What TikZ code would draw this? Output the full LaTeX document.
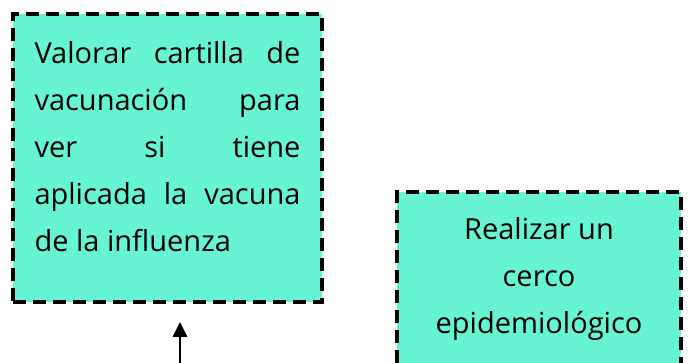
\documentclass[tikz,border=0pt]{standalone}
\usepackage{fontspec}
\setmainfont{Open Sans}
\usetikzlibrary{arrows.meta}
\definecolor{aguamarina}{RGB}{102,244,210}

\begin{document}
\begin{tikzpicture}[x=1pt,y=1pt,
    caja/.style={draw=black, fill=aguamarina, line width=3.2pt,
      dash pattern=on 13pt off 7pt, inner sep=0pt,
      font=\fontsize{29}{47}\selectfont},
    flecha/.style={-{Triangle[length=15pt,width=14pt]}, line width=2.6pt}]
  \useasboundingbox (0,0) rectangle (690,363);
  \clip (0,0) rectangle (690,363);

  \node [caja, minimum width=309pt, minimum height=288pt,
    text width=266pt, align=justify] (valorar) at (167.5,205)
    {Valorar cartilla de\linebreak vacunación para\linebreak ver si tiene\linebreak aplicada la vacuna\linebreak de la influenza\rule[-23pt]{0pt}{0pt}};
  \node [caja, minimum width=284pt, minimum height=174pt,
    align=center] (cerco) at (539,84)
    {Realizar un\\cerco\\epidemiológico};

  \coordinate (ini) at (180,-5);
  \coordinate (fin) at (180,41);
  \draw [flecha] (ini) -- (fin);
\end{tikzpicture}
\end{document}
